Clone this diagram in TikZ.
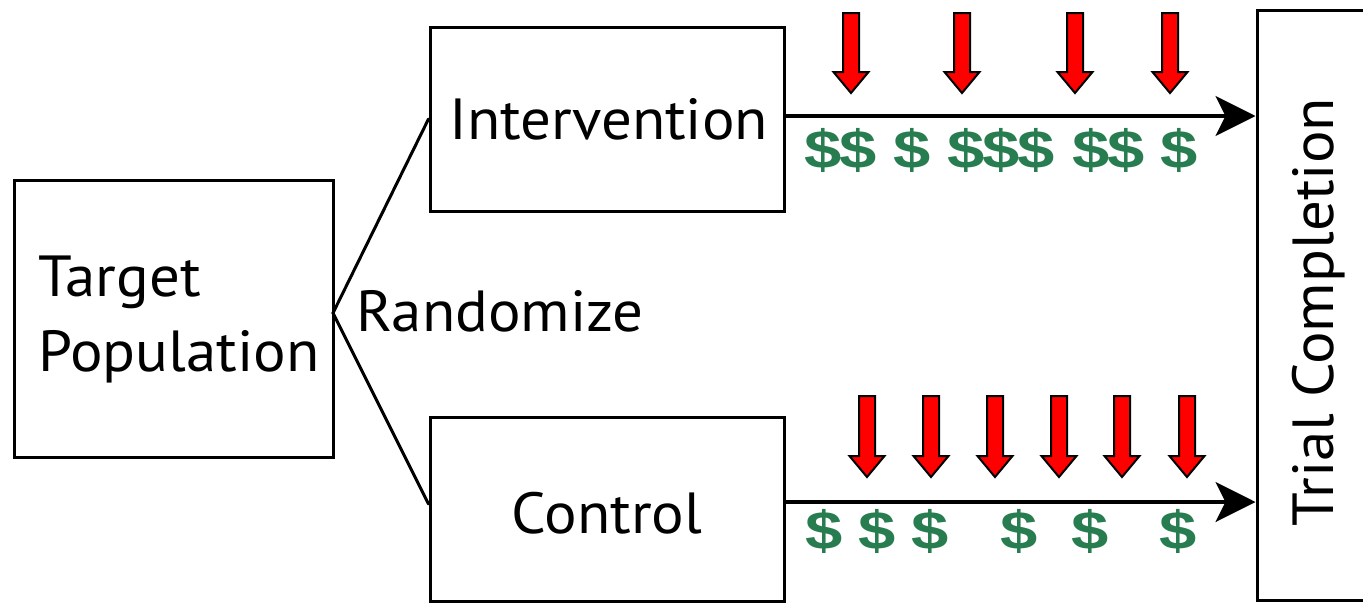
\documentclass[tikz,border=0pt]{standalone}
\usepackage{fontspec}
\setmainfont{PT Sans}[FakeStretch=1.05]
\newfontfamily\dolfont{Liberation Sans}[Scale=1.0]
\usetikzlibrary{arrows.meta}
\definecolor{dolgreen}{RGB}{40,125,80}
\definecolor{arrred}{RGB}{255,0,0}
\tikzset{
  boxnode/.style={draw=black, line width=3pt, rectangle, inner sep=0pt},
  lbl/.style={font=\fontsize{58}{75}\selectfont, inner sep=0pt, text=black},
  conn/.style={line width=3pt, line cap=round},
  mainarrow/.style={line width=3.5pt, -{Stealth[length=40pt, width=40pt, inset=10pt]}},
  dolnode/.style={font=\dolfont\bfseries\fontsize{54}{54}\selectfont, text=dolgreen, inner sep=0pt, xscale=1.24},
  redarr/.style={draw=black, fill=arrred, line width=2pt, line join=miter},
}
\newcommand{\downarrowshape}[3]{%
  \filldraw[redarr] (#1-8,#2) -- (#1+8,#2) -- (#1+8,#3-21) -- (#1+17.5,#3-21) -- (#1,#3) -- (#1-17.5,#3-21) -- (#1-8,#3-21) -- cycle;}
\begin{document}
\begin{tikzpicture}[x=1pt,y=-1pt]
\useasboundingbox (0,0) rectangle (1363,603);
\clip (0,0) rectangle (1363,603);
\fill[white] (0,0) rectangle (1363,603);
% boxes
\node[boxnode, minimum width=319pt, minimum height=277pt] (tp) at (173.5,318.5) {};
\node[boxnode, minimum width=354pt, minimum height=184pt] (iv) at (607,119) {};
\node[boxnode, minimum width=354pt, minimum height=184pt] (ct) at (607,509) {};
\node[boxnode, minimum width=140pt, minimum height=590pt] (tc) at (1327,305) {};
% texts
\node[lbl, anchor=base west, align=left] (tptext) at (38,371) {Target\\Population};
\node[lbl, anchor=base] (ivtext) at (609,139) {Intervention};
\node[lbl, anchor=base] (cttext) at (607,533) {Control};
\node[lbl, anchor=base west] (rnd) at (356,331) {Randomize};
\node[lbl, anchor=base, rotate=90] (tctext) at (1333,312) {Trial Completion};
% randomize connectors
\coordinate (j) at (333,313);
\draw[conn] (iv.west) -- (j) -- ([yshift=5pt]ct.west);
% main arrows
\draw[mainarrow] ([yshift=3pt]iv.east) -- ([yshift=3pt]iv.east -| tc.west);
\draw[mainarrow] ([yshift=7pt]ct.east) -- ([yshift=7pt]ct.east -| tc.west);
% red arrows
\foreach \xx in {851,962,1075,1170} {\downarrowshape{\xx}{13}{93}}
\foreach \xx in {867,931,995,1059,1122,1187} {\downarrowshape{\xx}{396}{477}}
% dollars
\foreach \xx [count=\i] in {823,858,912,966,1001,1036,1091,1126,1179}
  {\node[dolnode] (dt\i) at (\xx,150) {\$};}
\foreach \xx [count=\i] in {824,877,930,1019,1090,1178}
  {\node[dolnode] (db\i) at (\xx,531) {\$};}
\end{tikzpicture}
\end{document}
